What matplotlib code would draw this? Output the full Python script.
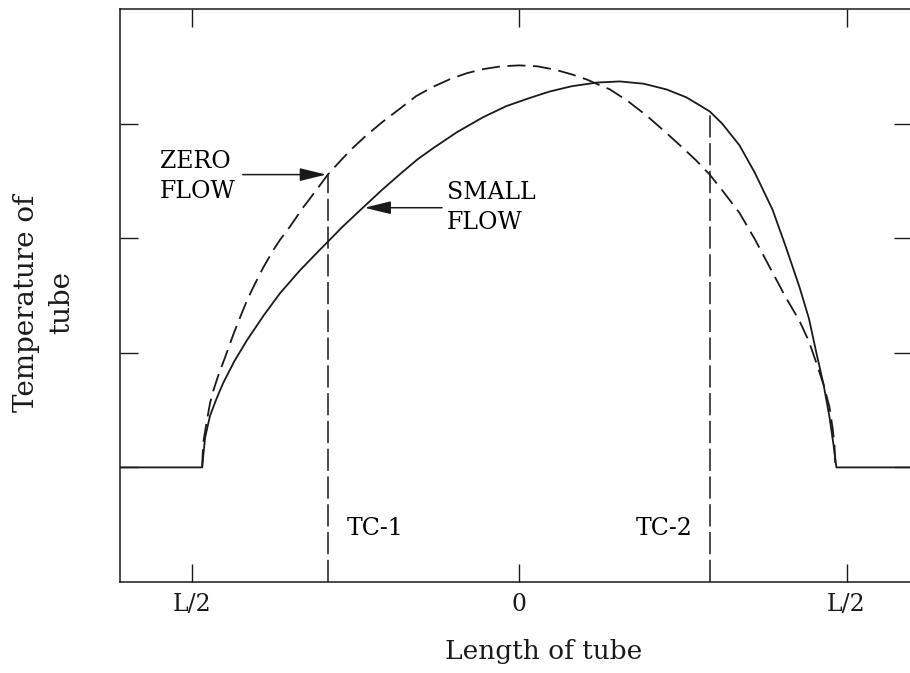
import matplotlib
matplotlib.use("Agg")
import matplotlib.pyplot as plt

plt.rcParams['font.family'] = ['DejaVu Serif']
plt.rcParams['lines.scale_dashes'] = False

# Position along tube (L/2 = 1) and tube temperature (arbitrary units)
zero_x = [-0.969, -0.966, -0.955, -0.945, -0.936, -0.920, -0.899, -0.875, -0.853,
          -0.830, -0.808, -0.783, -0.753, -0.730, -0.701, -0.660, -0.620, -0.585,
          -0.545, -0.508, -0.470, -0.420, -0.365, -0.315, -0.264, -0.210, -0.160,
          -0.111, -0.055, 0.000, 0.055, 0.110, 0.160, 0.206, 0.250, 0.276,
          0.330, 0.389, 0.445, 0.499, 0.540, 0.582, 0.625, 0.673, 0.720,
          0.774, 0.815, 0.856, 0.885, 0.908, 0.930, 0.948, 0.958, 0.963, 0.966]
zero_y = [0.00, 0.21, 0.40, 0.56, 0.66, 0.80, 0.96, 1.15, 1.31,
          1.47, 1.60, 1.74, 1.89, 1.99, 2.10, 2.27, 2.42, 2.555,
          2.68, 2.79, 2.89, 3.01, 3.13, 3.24, 3.32, 3.39, 3.44,
          3.475, 3.50, 3.508, 3.50, 3.47, 3.43, 3.385, 3.33, 3.30,
          3.20, 3.07, 2.93, 2.79, 2.68, 2.555, 2.40, 2.22, 1.99,
          1.70, 1.48, 1.28, 1.10, 0.91, 0.72, 0.525, 0.33, 0.20, 0.00]

small_x = [-1.22, -0.969, -0.960, -0.945, -0.925, -0.905, -0.870, -0.832, -0.780,
           -0.731, -0.670, -0.609, -0.588, -0.540, -0.478, -0.420, -0.360, -0.310,
           -0.264, -0.190, -0.111, -0.040, 0.030, 0.093, 0.160, 0.237, 0.307,
           0.380, 0.450, 0.510, 0.551, 0.582, 0.620, 0.673, 0.720, 0.774,
           0.815, 0.856, 0.885, 0.908, 0.930, 0.948, 0.960, 0.969, 1.22]
small_y = [0.0, 0.0, 0.26, 0.45, 0.60, 0.735, 0.93, 1.11, 1.33,
           1.52, 1.72, 1.90, 1.96, 2.10, 2.266, 2.42, 2.57, 2.69,
           2.784, 2.926, 3.055, 3.152, 3.222, 3.28, 3.326, 3.358, 3.368,
           3.348, 3.298, 3.23, 3.16, 3.106, 3.00, 2.81, 2.57, 2.248,
           1.92, 1.575, 1.30, 0.997, 0.72, 0.437, 0.20, 0.0, 0.0]

tc_x = [-0.585, 0.582]
tc_top = [2.555, 3.106]
tc_labels = ["TC-1", "TC-2"]

xticks = [-1.0, 0.0, 1.0]
xticklabels = ["L/2", "0", "L/2"]
yticks = [0, 1, 2, 3]

ink = '#1a1a1a'
fig = plt.figure(figsize=(9.10, 6.73), dpi=100)
ax = fig.add_axes([120/910, 1-582/673, (912-120)/910, (582-9)/673])

ax.plot(small_x, small_y, color=ink, lw=1.3, solid_joinstyle='round')
ax.plot(zero_x, zero_y, color=ink, lw=1.3, linestyle=(0, (13, 5.5)))
for x, t in zip(tc_x, tc_top):
    ax.plot([x, x], [-1.0, t], color=ink, lw=1.1, linestyle=(0, (16, 4)))

ax.set_xlim(-1.22, 1.2)
ax.set_ylim(-1.0, 4.0)
ax.set_xticks(xticks)
ax.set_xticklabels(xticklabels, fontsize=17)
ax.set_yticks(yticks)
ax.set_yticklabels([])
ax.tick_params(direction='in', length=13, width=1.0, top=True, right=True,
               pad=8, colors=ink)
for s in ax.spines.values():
    s.set_linewidth(1.1)
    s.set_color(ink)

ax.set_xlabel("Length of tube", fontsize=19, color=ink)
ax.xaxis.set_label_coords((544-120)/792, -(652-582)/573)
ax.xaxis.label.set_va('center')
ax.set_ylabel("Temperature of\ntube", fontsize=20, color=ink, linespacing=1.4)
ax.yaxis.set_label_coords(-(120-44)/792, (582-303)/573)
ax.yaxis.label.set_va('center')

# TC labels
ax.text(tc_x[0] + 0.058, -0.53, tc_labels[0], fontsize=17, ha='left', va='center')
ax.text(tc_x[1] - 0.052, -0.53, tc_labels[1], fontsize=17, ha='right', va='center')

arrowprops = dict(arrowstyle='-|>,head_length=0.9,head_width=0.22', color=ink, lw=1.1,
                  mutation_scale=18, shrinkA=0, shrinkB=0)
ax.annotate("", xy=(tc_x[0] - 0.005, zero_y[17]), xytext=(-0.845, zero_y[17]),
            arrowprops=arrowprops)
ax.text(-1.098, zero_y[17] - 0.02, "ZERO\nFLOW", fontsize=17, ha='left', va='center',
        linespacing=1.4)
ax.annotate("", xy=(small_x[14] + 0.005, small_y[14]), xytext=(-0.236, small_y[14]),
            arrowprops=arrowprops)
ax.text(-0.222, small_y[14], "SMALL\nFLOW", fontsize=17, ha='left', va='center',
        linespacing=1.4)

fig.savefig("out.png", dpi=100)
